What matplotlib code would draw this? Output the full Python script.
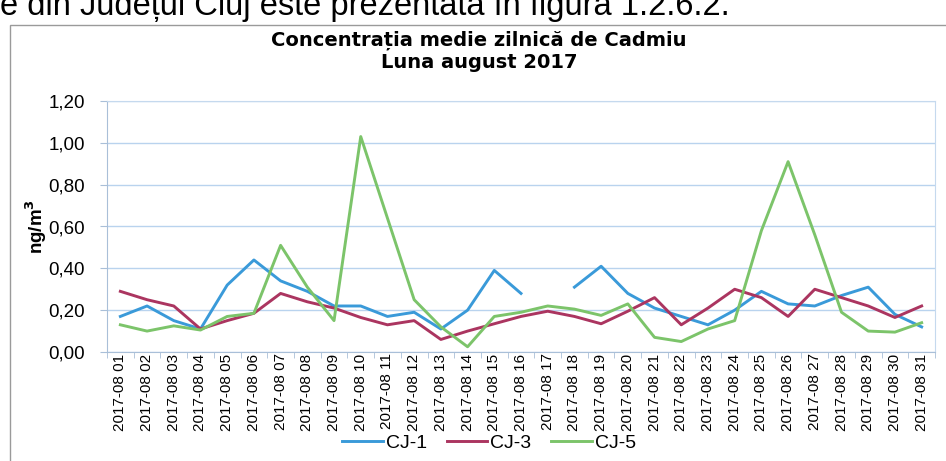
import matplotlib.pyplot as plt
import numpy as np
from matplotlib.patches import Rectangle

plt.rcParams['font.family'] = ['Liberation Sans', 'DejaVu Sans']

# date labels (day of August 2017)
days = list(range(1, 32))
day_labels = ['2017-08 %02d' % d for d in days]

# daily mean cadmium concentration, ng/m3
cj1 = [0.17, 0.22, 0.15, 0.11, 0.32, 0.44, 0.34, 0.29, 0.22, 0.22, 0.17, 0.19, 0.11, 0.20, 0.39, 0.28,
       np.nan, 0.31, 0.41, 0.28, 0.21, 0.17, 0.13, 0.20, 0.29, 0.23, 0.22, 0.27, 0.31, 0.18, 0.12]
cj3 = [0.29, 0.25, 0.22, 0.11, 0.15, 0.185, 0.28, 0.24, 0.21, 0.165, 0.13, 0.15, 0.06, 0.10, 0.135, 0.17,
       0.195, 0.17, 0.135, 0.195, 0.26, 0.13, 0.21, 0.30, 0.26, 0.17, 0.30, 0.26, 0.22, 0.165, 0.22]
cj5 = [0.13, 0.10, 0.125, 0.105, 0.17, 0.185, 0.51, 0.31, 0.15, 1.03, 0.64, 0.25, 0.12, 0.025, 0.17, 0.19,
       0.22, 0.205, 0.175, 0.23, 0.07, 0.05, 0.11, 0.15, 0.58, 0.91, 0.56, 0.19, 0.10, 0.095, 0.14]

y_ticks = [0.0, 0.2, 0.4, 0.6, 0.8, 1.0, 1.2]

fig = plt.figure(figsize=(9.46, 4.61), dpi=100)
ax = fig.add_axes([107 / 946, 109 / 461, 828 / 946, 251 / 461])

ax.plot(days, cj1, color='#3a9ad9', lw=2.1, label='CJ-1')
ax.plot(days, cj3, color='#ab3560', lw=2.1, label='CJ-3')
ax.plot(days, cj5, color='#7cc46a', lw=2.1, label='CJ-5')

ax.set_xlim(0.5, 31.5)
ax.set_ylim(0, 1.2)
ax.set_yticks(y_ticks)
ax.set_yticklabels([('%.2f' % v).replace('.', ',') for v in y_ticks], fontsize=13.5)
ax.set_xticks(days)
ax.set_xticklabels(day_labels, rotation=90, fontsize=11)
ax.set_xticks(np.arange(0.5, 32, 1), minor=True)
ax.tick_params(axis='x', which='major', length=0, pad=1)
ax.tick_params(axis='x', which='minor', length=4, color='#a9bfd8')
ax.tick_params(axis='y', length=5, color='#a9bfd8', pad=11)

ax.grid(axis='y', color='#b9d3ee', lw=1)
for s in ['top', 'right']:
    ax.spines[s].set_color('#c5d9ee')
for s in ['left', 'bottom']:
    ax.spines[s].set_color('#a9bfd8')

fig.text(479 / 946, 1 - 40 / 461, 'Concentrația medie zilnică de Cadmiu', ha='center', va='center',
         fontsize=14, fontweight='bold', family='DejaVu Sans')
fig.text(479 / 946, 1 - 62 / 461, 'Luna august 2017', ha='center', va='center',
         fontsize=14, fontweight='bold', family='DejaVu Sans')
fig.text(36 / 946, 1 - 227 / 461, 'ng/m$^\\mathbf{3}$', rotation=90, ha='center', va='center',
         fontsize=13.5, fontweight='bold')

fig.legend(loc='center', bbox_to_anchor=(489 / 946, 18 / 461), ncol=3, frameon=False, fontsize=14,
           handlelength=2.1, handletextpad=0.15, columnspacing=1.0)

# text of the scanned page above the chart, and the chart border
fig.text(0, 1 - 15 / 461, 'e din Județul Cluj este prezentată în figura 1.2.6.2.', ha='left',
         va='baseline', fontsize=23.5)
fig.patches.append(Rectangle((10 / 946, -0.1), 1.0, 1.1 - 25 / 461, transform=fig.transFigure,
                             fill=False, ec='#9a9a9a', lw=1))

fig.savefig('out.png')
